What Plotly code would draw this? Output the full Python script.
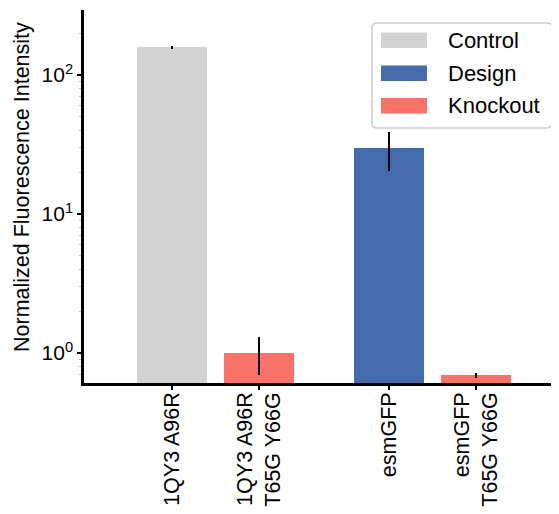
import plotly.graph_objects as go
import numpy as np

# ---- data ----
proteins = ["1QY3", "1QY3", "esmGFP", "esmGFP"]
tick_labels = ["1QY3 A96R", "1QY3 A96R<br>T65G Y66G", "esmGFP", "esmGFP<br>T65G Y66G"]
groups = ["Control", "Knockout", "Design", "Knockout"]
values = [158.0, 1.0, 29.7, 0.69]
errors = [5.0, 0.3, 9.2, 0.03]
y_tick_vals = [1, 10, 100]
y_tick_text = ["10<sup>0</sup>", "10<sup>1</sup>", "10<sup>2</sup>"]
legend_order = ["Control", "Design", "Knockout"]
colors = {"Control": "#d3d3d3", "Design": "#436bae", "Knockout": "#fa7268"}

# positions: groups of proteins separated by a gap
uniq = list(dict.fromkeys(proteins))
xpos = []
for i, p in enumerate(proteins):
    gi = uniq.index(p)
    within = proteins[:i].count(p)
    xpos.append(gi * 2.5 + within)

FONT = "Liberation Sans, Arial, Helvetica, sans-serif"
fig = go.Figure()
for g in legend_order:
    idx = [i for i, gg in enumerate(groups) if gg == g]
    fig.add_trace(go.Bar(
        x=[xpos[i] for i in idx],
        y=[values[i] for i in idx],
        name=g,
        width=0.8,
        marker=dict(color=colors[g], line=dict(width=0)),
        error_y=dict(type="data", array=[errors[i] for i in idx], visible=True,
                     color="black", thickness=2.5, width=0),
        showlegend=False,
    ))

# page body has an 8px margin; size the figure so it fits the 559x514 window
OFF = 8
W, H = 559 - OFF, 514 - OFF
L, R, T, B = 84 - OFF, 2, 10 - OFF, 514 - 383
pw, ph = W - L - R, H - T - B

fig.update_layout(
    width=W, height=H,
    margin=dict(l=L, r=R, t=T, b=B),
    paper_bgcolor="white", plot_bgcolor="white",
    font=dict(family=FONT, size=22, color="black"),
    bargap=0,
)
fig.update_xaxes(
    range=[-1.01, 4.43], automargin=False,
    tickmode="array", tickvals=xpos, ticktext=tick_labels,
    tickangle=-90, ticks="outside", ticklen=4, tickwidth=2, tickcolor="black",
    ticklabeloverflow="allow", ticklabelstandoff=-6,
    showline=True, linecolor="black", linewidth=2.5,
    showgrid=False, zeroline=False,
    tickfont=dict(size=21.5),
)
fig.update_yaxes(
    type="log", range=[-0.216, 2.468], automargin=False,
    tickmode="array", tickvals=y_tick_vals, ticktext=y_tick_text,
    ticks="outside", ticklen=4, tickwidth=2, tickcolor="black",
    minor=dict(ticks="outside", ticklen=2, tickwidth=1, tickcolor="#bbbbbb", dtick="D1"),
    showline=True, linecolor="black", linewidth=2.5,
    showgrid=False, zeroline=False,
    tickfont=dict(size=21),
)

# ---- axis title and legend (page pixel -> paper coordinates) ----
def px2x(px):
    return (px - OFF - L) / pw

def py2y(py):
    return (H - B - (py - OFF)) / ph

fig.add_annotation(x=px2x(22), y=py2y(187), xref="paper", yref="paper",
                   text="Normalized Fluorescence Intensity", textangle=-90,
                   showarrow=False, xanchor="center", yanchor="middle",
                   font=dict(size=21.5, family=FONT, color="black"))

bx0, bx1, by0, by1 = px2x(372), px2x(552), py2y(128), py2y(23)
rx, ry = 5 / pw, 5 / ph
path = (f"M {bx0+rx},{by0} L {bx1-rx},{by0} Q {bx1},{by0} {bx1},{by0+ry} "
        f"L {bx1},{by1-ry} Q {bx1},{by1} {bx1-rx},{by1} L {bx0+rx},{by1} "
        f"Q {bx0},{by1} {bx0},{by1-ry} L {bx0},{by0+ry} Q {bx0},{by0} {bx0+rx},{by0} Z")
fig.add_shape(type="path", path=path, xref="paper", yref="paper",
              fillcolor="rgba(255,255,255,0.8)", line=dict(color="#cccccc", width=1.5),
              layer="above")
row_y = [40.3, 73.3, 105.8]
for g, ry_px in zip(legend_order, row_y):
    fig.add_shape(type="rect", xref="paper", yref="paper",
                  x0=px2x(381), x1=px2x(427), y0=py2y(ry_px + 7.7), y1=py2y(ry_px - 7.7),
                  fillcolor=colors[g], line=dict(width=0), layer="above")
    fig.add_annotation(x=px2x(446), y=py2y(ry_px), xref="paper", yref="paper",
                       text=g, showarrow=False, xanchor="left", yanchor="middle",
                       font=dict(size=22, family=FONT, color="black"))

fig.write_html("out.html")
